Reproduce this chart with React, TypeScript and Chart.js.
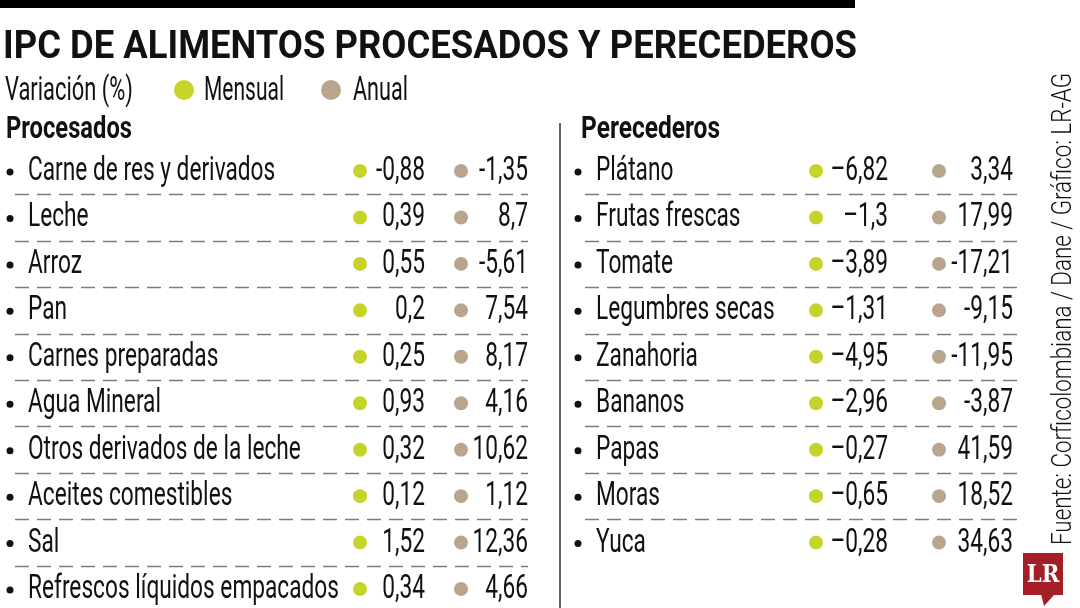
import { useEffect, useRef } from 'react';
import { Chart, registerables } from 'chart.js';

Chart.register(...registerables);

const procesados = [
  'Carne de res y derivados',
  'Leche',
  'Arroz',
  'Pan',
  'Carnes preparadas',
  'Agua Mineral',
  'Otros derivados de la leche',
  'Aceites comestibles',
  'Sal',
  'Refrescos líquidos empacados',
];
const procMensual = [-0.88, 0.39, 0.55, 0.2, 0.25, 0.93, 0.32, 0.12, 1.52, 0.34];
const procAnual = [-1.35, 8.7, -5.61, 7.54, 8.17, 4.16, 10.62, 1.12, 12.36, 4.66];

const perecederos = [
  'Plátano',
  'Frutas frescas',
  'Tomate',
  'Legumbres secas',
  'Zanahoria',
  'Bananos',
  'Papas',
  'Moras',
  'Yuca',
];
const perMensual = [-6.82, -1.3, -3.89, -1.31, -4.95, -2.96, -0.27, -0.65, -0.28];
const perAnual = [3.34, 17.99, -17.21, -9.15, -11.95, -3.87, 41.59, 18.52, 34.63];

const TITLE = 'IPC DE ALIMENTOS PROCESADOS Y PERECEDEROS';
const SUBTITLE = 'Variación (%)';
const SOURCE = 'Fuente: Corficolombiana / Dane / Gráfico: LR-AG';

const W = 1080;
const H = 608;
const GREEN = '#c5d32b';
const TAN = '#b9a58e';
const ROW0 = 171; // y del primer renglón
const STEP = 46.45;
// columnas (x en px)
const COL = { procM: 360, procA: 461, perM: 816, perA: 939 };
const FONT = 'Roboto, "Open Sans", sans-serif';

const fmt = (v: number, dash = '-') => {
  const s = String(Math.abs(v)).replace('.', ',');
  return v < 0 ? dash + s : s;
};

function txt(ctx: CanvasRenderingContext2D, s: string, x: number, y: number, font: string, sx: number, align: CanvasTextAlign = 'left') {
  ctx.save();
  ctx.font = font;
  ctx.textAlign = align;
  ctx.textBaseline = 'alphabetic';
  ctx.translate(x, y);
  ctx.scale(sx, 1);
  ctx.fillText(s, 0, 0);
  ctx.restore();
}

function fitScale(ctx: CanvasRenderingContext2D, s: string, font: string, width: number) {
  ctx.save();
  ctx.font = font;
  const w = ctx.measureText(s).width;
  ctx.restore();
  return width / w;
}

const tablePlugin = {
  id: 'tabla',
  beforeDatasetsDraw(chart: any) {
    const ctx: CanvasRenderingContext2D = chart.ctx;
    const y = chart.scales.y;
    ctx.save();
    ctx.fillStyle = '#fff';
    ctx.fillRect(0, 0, W, H);
    // barra superior
    ctx.fillStyle = '#000';
    ctx.fillRect(0, 0, 855, 8);
    // líneas punteadas
    ctx.strokeStyle = '#7d7d7d';
    ctx.lineWidth = 1.5;
    ctx.setLineDash([14, 8]);
    for (let i = 0; i < procesados.length - 1; i++) {
      const py = Math.round(y.getPixelForValue(i + 0.5)) + 0.5;
      ctx.beginPath();
      ctx.moveTo(15, py);
      ctx.lineTo(528, py);
      ctx.stroke();
    }
    for (let i = 0; i < perecederos.length - 1; i++) {
      const py = Math.round(y.getPixelForValue(i + 0.5)) + 0.5;
      ctx.beginPath();
      ctx.moveTo(585, py);
      ctx.lineTo(1020, py);
      ctx.stroke();
    }
    ctx.setLineDash([]);
    // separador vertical
    ctx.strokeStyle = '#333';
    ctx.lineWidth = 1.5;
    ctx.beginPath();
    ctx.moveTo(560, 123);
    ctx.lineTo(560, H);
    ctx.stroke();
    ctx.restore();
  },
  afterDatasetsDraw(chart: any) {
    const ctx: CanvasRenderingContext2D = chart.ctx;
    const y = chart.scales.y;
    const body = `400 34px ${FONT}`;
    const bold = `700 38px ${FONT}`;
    const head = `700 32px ${FONT}`;
    const sx = fitScale(ctx, 'Refrescos líquidos empacados', body, 311);
    ctx.save();
    ctx.fillStyle = '#111';

    txt(ctx, TITLE, 3, 58, bold, fitScale(ctx, TITLE, bold, 854));
    txt(ctx, SUBTITLE, 5, 100, body, fitScale(ctx, SUBTITLE, body, 128));
    txt(ctx, 'Mensual', 204, 100, body, fitScale(ctx, 'Mensual', body, 80));
    txt(ctx, 'Anual', 353, 100, body, fitScale(ctx, 'Anual', body, 55));
    ctx.fillStyle = GREEN;
    ctx.beginPath();
    ctx.arc(184, 90, 10, 0, Math.PI * 2);
    ctx.fill();
    ctx.fillStyle = TAN;
    ctx.beginPath();
    ctx.arc(331, 90, 10, 0, Math.PI * 2);
    ctx.fill();
    ctx.fillStyle = '#111';

    txt(ctx, 'Procesados', 6, 138, head, fitScale(ctx, 'Procesados', head, 126));
    txt(ctx, 'Perecederos', 581, 138, head, fitScale(ctx, 'Perecederos', head, 139));

    const bullet = (x: number, py: number) => {
      ctx.beginPath();
      ctx.arc(x, py, 3.5, 0, Math.PI * 2);
      ctx.fill();
    };

    procesados.forEach((c, i) => {
      const py = y.getPixelForValue(i);
      bullet(10, py + 1);
      txt(ctx, c, 28, py + 9, body, sx);
      txt(ctx, fmt(procMensual[i]), 425, py + 9, body, sx, 'right');
      txt(ctx, fmt(procAnual[i]), 528, py + 9, body, sx, 'right');
    });
    perecederos.forEach((c, i) => {
      const py = y.getPixelForValue(i);
      bullet(578, py + 1);
      txt(ctx, c, 596, py + 9, body, sx);
      txt(ctx, fmt(perMensual[i], '–'), 888, py + 9, body, sx, 'right');
      txt(ctx, fmt(perAnual[i]), 1013, py + 9, body, sx, 'right');
    });

    // fuente vertical
    const src = `300 27px ${FONT}`;
    const ssx = fitScale(ctx, SOURCE, src, 472);
    ctx.save();
    ctx.translate(1071, 545);
    ctx.rotate(-Math.PI / 2);
    txt(ctx, SOURCE, 0, 0, src, ssx);
    ctx.restore();

    // logo LR
    ctx.fillStyle = '#a61e25';
    ctx.fillRect(1023, 553, 40, 42);
    ctx.beginPath();
    ctx.moveTo(1041, 594);
    ctx.lineTo(1055, 594);
    ctx.lineTo(1044, 606);
    ctx.closePath();
    ctx.fill();
    ctx.fillStyle = '#fff';
    ctx.font = 'bold 25px "DejaVu Serif", "Liberation Serif", serif';
    ctx.textAlign = 'center';
    ctx.textBaseline = 'middle';
    ctx.save();
    ctx.translate(1043, 575);
    ctx.scale(0.85, 1);
    ctx.fillText('LR', 0, 0);
    ctx.restore();
    ctx.restore();
  },
};

export default function App() {
  const canvasRef = useRef<HTMLCanvasElement>(null);

  useEffect(() => {
    document.body.style.margin = '0';
    if (!canvasRef.current) return;
    const pts = (vals: number[], x: number) => vals.map((v, i) => ({ x, y: i, v }));
    const chart = new Chart(canvasRef.current, {
      type: 'scatter',
      data: {
        datasets: [
          { label: 'Mensual', data: pts(procMensual, COL.procM), backgroundColor: GREEN },
          { label: 'Anual', data: pts(procAnual, COL.procA), backgroundColor: TAN },
          { label: 'Mensual', data: pts(perMensual, COL.perM), backgroundColor: GREEN },
          { label: 'Anual', data: pts(perAnual, COL.perA), backgroundColor: TAN },
        ],
      },
      options: {
        responsive: false,
        animation: false,
        devicePixelRatio: 1,
        layout: { padding: 0, autoPadding: false },
        elements: { point: { radius: 7, borderWidth: 0, hoverRadius: 7 } },
        scales: {
          x: { type: 'linear', min: 0, max: W, display: false },
          y: { type: 'linear', min: -ROW0 / STEP, max: (H - ROW0) / STEP, reverse: true, display: false },
        },
        plugins: { legend: { display: false }, tooltip: { enabled: false } },
      },
      plugins: [tablePlugin],
    });
    return () => chart.destroy();
  }, []);

  return (
    <div style={{ width: W, height: H, background: '#fff' }}>
      <canvas ref={canvasRef} width={W} height={H} />
    </div>
  );
}
